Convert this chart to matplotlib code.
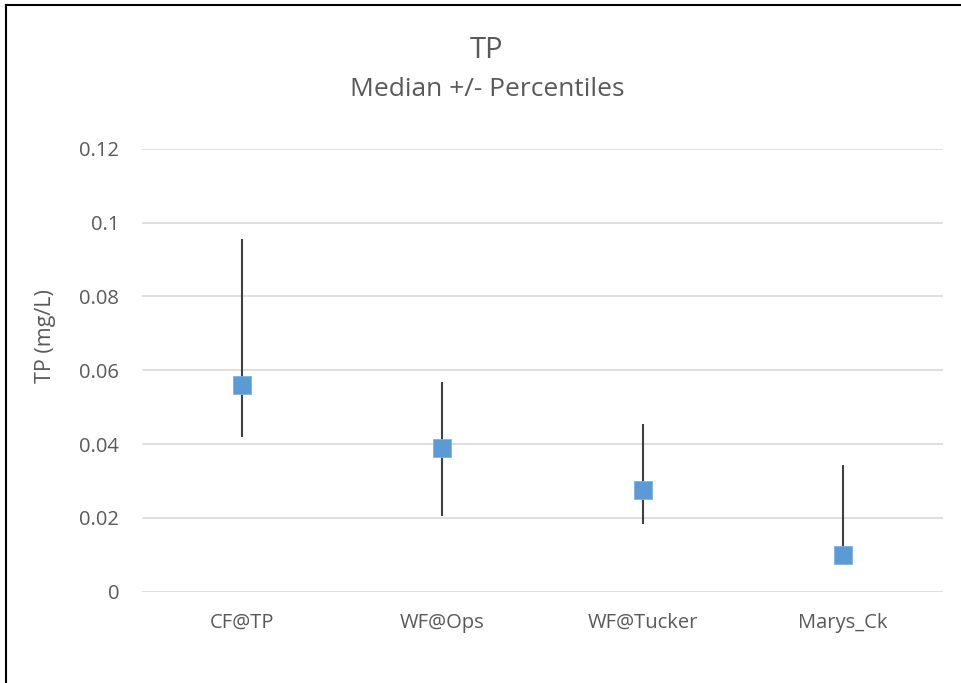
import matplotlib
matplotlib.use("Agg")
import matplotlib.pyplot as plt
from matplotlib.lines import Line2D

sites = ["CF@TP", "WF@Ops", "WF@Tucker", "Marys_Ck"]
median = [0.0561, 0.0389, 0.0276, 0.0099]
upper = [0.0956, 0.0569, 0.0454, 0.0343]
lower = [0.0419, 0.0205, 0.0184, 0.0099]
yticks = [0, 0.02, 0.04, 0.06, 0.08, 0.1, 0.12]
ytick_labels = ["0", "0.02", "0.04", "0.06", "0.08", "0.1", "0.12"]

plt.rcParams['font.family'] = ['Open Sans', 'DejaVu Sans']
txt = "#595959"

fig = plt.figure(figsize=(9.61, 6.83), dpi=100)
ax = fig.add_axes([142/961, 1-591.7/683, (943-142)/961, (591.7-148.9)/683])

x = list(range(len(sites)))
yerr = [[m - l for m, l in zip(median, lower)], [u - m for m, u in zip(median, upper)]]
ax.errorbar(x, median, yerr=yerr, fmt='none', ecolor="#404040", elinewidth=1.5, capsize=0, zorder=2)
ax.plot(x, median, linestyle='none', marker='s', markersize=13, color="#5B9BD5",
        markeredgecolor="#7FB2E0", markeredgewidth=0.6, zorder=3)

ax.set_xlim(-0.5, 3.5)
ax.set_ylim(0, 0.12)
ax.set_yticks(yticks)
ax.set_yticklabels(ytick_labels)
ax.set_xticks(x)
ax.set_xticklabels(sites)
ax.yaxis.grid(True, color="#D9D9D9", linewidth=1.2)
ax.set_axisbelow(True)
for s in ax.spines.values():
    s.set_visible(False)
ax.tick_params(axis='both', length=0, labelsize=14.5, colors=txt)
ax.tick_params(axis='y', pad=16.5)
ax.tick_params(axis='x', pad=15)

fig.text(46/961, 1-336/683, "TP (mg/L)", rotation=90, ha='center', va='center', fontsize=15.5, color=txt)
fig.text(487/961, 1-50/683, "TP", ha='center', va='center', fontsize=21, color=txt)
fig.text(487/961, 1-89/683, "Median +/- Percentiles", ha='center', va='center', fontsize=19, color=txt)

# chart border (left and top edges visible)
for xs, ys in [([6/961, 6/961], [0, 1-5/683]), ([6/961, 1.0], [1-5/683, 1-5/683])]:
    fig.add_artist(Line2D(xs, ys, color="black", linewidth=1.5, transform=fig.transFigure))

fig.savefig("out.png", dpi=100)
